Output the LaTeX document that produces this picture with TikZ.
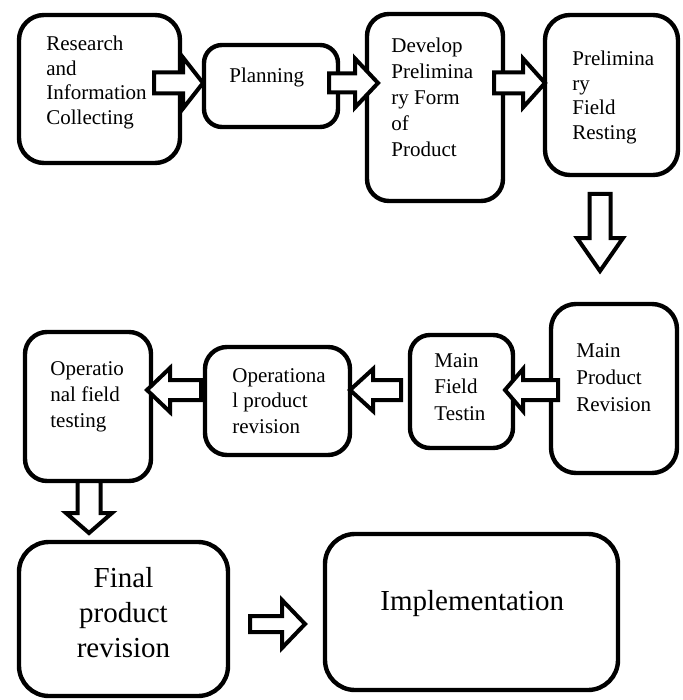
\documentclass[tikz,border=0pt]{standalone}
\usepackage{fontspec}
\setmainfont{Liberation Serif}
\usetikzlibrary{fit}
\newcommand{\mylines}[1]{\begin{tabular}[t]{@{}l@{}}#1\end{tabular}}
\newcommand{\mycentre}[1]{\begin{tabular}[t]{@{}c@{}}#1\end{tabular}}
% horizontal block arrow: tail x, head-base x, tip x, centre y, shaft half, head half
\newcommand{\harrow}[6]{\draw[barrow] (#1,#4-#5) -- (#2,#4-#5) -- (#2,#4-#6) -- (#3,#4) -- (#2,#4+#6) -- (#2,#4+#5) -- (#1,#4+#5) -- cycle;}
% vertical block arrow: centre x, tail y, head-base y, tip y, shaft half, head half
\newcommand{\varrow}[6]{\draw[barrow] (#1-#5,#2) -- (#1-#5,#3) -- (#1-#6,#3) -- (#1,#4) -- (#1+#6,#3) -- (#1+#5,#3) -- (#1+#5,#2) -- cycle;}
\tikzset{
  box/.style={draw, line width=2.2pt, rounded corners=#1, inner sep=0pt},
  box/.default=10pt,
  barrow/.style={draw, fill=white, line width=2pt, line join=miter},
  txt/.style={inner sep=0pt, anchor=base west, font=\fontsize{10.5}{12.75}\selectfont},
  bigtxt/.style={inner sep=0pt, font=\fontsize{14.5}{17.5}\selectfont}
}
\begin{document}
\begin{tikzpicture}[x=0.5pt, y=-0.5pt]
\useasboundingbox (0,0) rectangle (682,700);
% boxes
\node[box=12.5pt, fit={(19,15) (180,163)}] (rs) {};
\node[box=9pt,   fit={(204,45) (338,127)}] (pl) {};
\node[box=11pt,  fit={(367,14) (503,201)}] (dv) {};
\node[box=12.5pt, fit={(545,15) (678,175)}] (pf) {};
\node[box=12.5pt, fit={(551,304) (677,473)}] (mpr) {};
\node[box=10pt,  fit={(410,335) (513,448)}] (mft) {};
\node[box=11pt,  fit={(205,347) (350,455)}] (opr) {};
\node[box=11pt,  fit={(25,332) (151,481)}] (oft) {};
\node[box=15pt,  fit={(19,542) (228,696)}] (fpr) {};
\node[box=15pt,  fit={(325,534) (618,690)}] (imp) {};
% block arrows
\harrow{154}{183}{203}{83}{10.5}{25.5}
\harrow{329}{355}{378}{83}{9.5}{24.5}
\harrow{494}{523}{545}{83}{10.5}{24.5}
\varrow{600}{194}{238}{271}{10.5}{23}
\harrow{558}{523}{505}{390}{10}{21}
\harrow{401}{373}{350}{390}{10}{21}
\harrow{201}{170}{147}{390}{10}{22}
\varrow{89}{481}{513}{533}{11.5}{23}
\harrow{250}{282}{305}{624}{8}{24}
% texts
\node[txt, font=\fontsize{10.5}{12.2}\selectfont] (t-rs) at (46,51) {\mylines{Research\\and\\Information\\Collecting}};
\node[txt] (t-pl) at (229,83) {Planning};
\node[txt, font=\fontsize{10.5}{13}\selectfont] (t-dv) at (391,53) {\mylines{Develop\\Prelimina\\ry Form\\of\\Product}};
\node[txt, font=\fontsize{10.5}{12.25}\selectfont] (t-pf) at (572,66) {\mylines{Prelimina\\ry\\Field\\Resting}};
\node[txt, font=\fontsize{10.5}{13.5}\selectfont] (t-mpr) at (576,357) {\mylines{Main\\Product\\Revision}};
\node[txt, font=\fontsize{10.5}{13.25}\selectfont] (t-mft) at (434,367) {\mylines{Main\\Field\\Testin}};
\node[txt] (t-opr) at (232,382) {\mylines{Operationa\\l product\\revision}};
\node[txt, font=\fontsize{10.5}{13}\selectfont] (t-oft) at (50,375) {\mylines{Operatio\\nal field\\testing}};
\node[bigtxt, anchor=base] (t-fpr) at (123.5,587) {\mycentre{Final\\product\\revision}};
\node[bigtxt, anchor=base west] (t-imp) at (380,610) {Implementation};
\end{tikzpicture}
\end{document}
